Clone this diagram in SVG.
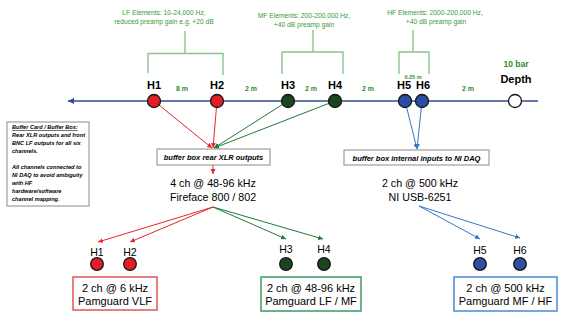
<svg xmlns="http://www.w3.org/2000/svg" width="567" height="321" viewBox="0 0 567 321">
<style>
text{font-family:"Liberation Sans",Arial,sans-serif;fill:#000}
.ann{fill:#3a9a3a;font-size:6.7px;text-anchor:middle}
.dist{fill:#2f8a2f;font-size:7px;font-weight:bold;text-anchor:middle}
.top{font-size:11px;font-weight:bold;text-anchor:middle}
.bot{font-size:10.5px;text-anchor:middle}
.dev{font-size:10.7px;text-anchor:middle}
.pg{font-size:11px;text-anchor:middle}
.buf{font-size:7.5px;font-weight:bold;font-style:italic;text-anchor:middle}
.note{font-size:5.6px;font-weight:bold;font-style:italic}
.brk{fill:none;stroke:#8cc48c;stroke-width:1.4}
.node{stroke:#151515;stroke-width:1.3}
.red{fill:#e31e24}.grn{fill:#1b4421}.blu{fill:#2b4ea3}
.cr{stroke:#e8262b;stroke-width:1;fill:none}
.cg{stroke:#1f7a3a;stroke-width:1;fill:none}
.cb{stroke:#3677c8;stroke-width:1;fill:none}
.box{fill:#fff;stroke:#8a8a8a;stroke-width:1}
</style>
<defs>
<marker id="ar" viewBox="0 0 10 10" refX="10" refY="5" markerWidth="5" markerHeight="5" markerUnits="userSpaceOnUse" orient="auto"><path d="M0,0L10,5L0,10z" fill="#e8262b"/></marker>
<marker id="ag" viewBox="0 0 10 10" refX="10" refY="5" markerWidth="5" markerHeight="5" markerUnits="userSpaceOnUse" orient="auto"><path d="M0,0L10,5L0,10z" fill="#1f7a3a"/></marker>
<marker id="ab" viewBox="0 0 10 10" refX="10" refY="5" markerWidth="5" markerHeight="5" markerUnits="userSpaceOnUse" orient="auto"><path d="M0,0L10,5L0,10z" fill="#3677c8"/></marker>
<marker id="am" viewBox="0 0 10 10" refX="10" refY="5" markerWidth="6" markerHeight="6" markerUnits="userSpaceOnUse" orient="auto"><path d="M0,0L10,5L0,10z" fill="#2f4c8f"/></marker>
</defs>
<rect width="567" height="321" fill="#fff"/>

<g id="annotations">
<text class="ann" x="164" y="15">LF Elements: 10-24,000 Hz,</text>
<text class="ann" x="164" y="23.5">reduced preamp gain e.g. +20 dB</text>
<path class="brk" d="M185,31V53.5M148,73V53.5H223V75"/>
<text class="ann" x="304" y="17.5">MF Elements: 200-200,000 Hz,</text>
<text class="ann" x="304" y="26.5">+40 dB preamp gain</text>
<path class="brk" d="M313,30V52M282,74V52H343V74"/>
<text class="ann" x="435" y="15">HF Elements: 2000-200,000 Hz,</text>
<text class="ann" x="436" y="23.5">+40 dB preamp gain</text>
<path class="brk" d="M413,30V52M399,74V52H429V74"/>
<text class="dist" x="182" y="90.5">8 m</text>
<text class="dist" x="251" y="90.5">2 m</text>
<text class="dist" x="311" y="90.5">2 m</text>
<text class="dist" x="368" y="90.5">2 m</text>
<text class="dist" x="413" y="79" style="font-size:5.5px">0.25 m</text>
<text class="dist" x="468" y="90.5">2 m</text>
<text class="dist" x="516" y="67" style="font-size:8.5px">10 bar</text>
</g>

<g id="connectors">
<line x1="538" y1="101" x2="68" y2="101" stroke="#2f4c8f" stroke-width="1.3" marker-end="url(#am)"/>
<line class="cr" x1="154" y1="101" x2="212" y2="148" marker-end="url(#ar)"/>
<line class="cr" x1="217" y1="101" x2="213" y2="148" marker-end="url(#ar)"/>
<line class="cg" x1="288" y1="101" x2="214" y2="148" marker-end="url(#ag)"/>
<line class="cg" x1="335" y1="101" x2="214" y2="148" marker-end="url(#ag)"/>
<line class="cr" x1="213" y1="165" x2="213" y2="174" marker-end="url(#ar)"/>
<line class="cb" x1="405" y1="101" x2="417" y2="149" marker-end="url(#ab)"/>
<line class="cb" x1="422" y1="101" x2="417" y2="149" marker-end="url(#ab)"/>
<line class="cr" x1="213" y1="207" x2="98" y2="242" marker-end="url(#ar)"/>
<line class="cr" x1="213" y1="207" x2="130" y2="242" marker-end="url(#ar)"/>
<line class="cg" x1="213" y1="207" x2="286" y2="239" marker-end="url(#ag)"/>
<line class="cg" x1="213" y1="207" x2="323" y2="239" marker-end="url(#ag)"/>
<line class="cb" x1="419" y1="206" x2="480" y2="239" marker-end="url(#ab)"/>
<line class="cb" x1="419" y1="206" x2="520" y2="238" marker-end="url(#ab)"/>
</g>

<g id="H1"><text class="top" x="154" y="89">H1</text><circle class="node red" cx="154" cy="101" r="6.5"/></g>
<g id="H2"><text class="top" x="217" y="89">H2</text><circle class="node red" cx="217" cy="101" r="6.5"/></g>
<g id="H3"><text class="top" x="288" y="89">H3</text><circle class="node grn" cx="288" cy="101" r="6.5"/></g>
<g id="H4"><text class="top" x="335" y="89">H4</text><circle class="node grn" cx="335" cy="101" r="6.5"/></g>
<g id="H5"><text class="top" x="404" y="89">H5</text><circle class="node blu" cx="405" cy="101" r="6.5"/></g>
<g id="H6"><text class="top" x="423" y="89">H6</text><circle class="node blu" cx="422" cy="101" r="6.5"/></g>
<g id="Depth"><text class="top" x="516" y="83">Depth</text><circle class="node" cx="515" cy="101" r="6.5" fill="#fff"/></g>

<g id="note">
<rect class="box" x="7" y="122" width="82" height="84" stroke="#999"/>
<text class="note" x="12" y="129" text-decoration="underline">Buffer Card / Buffer Box:</text>
<text class="note" x="12" y="137">Rear XLR outputs and front</text>
<text class="note" x="12" y="145">BNC LF outputs for all six</text>
<text class="note" x="12" y="153">channels.</text>
<text class="note" x="12" y="169">All channels connected to</text>
<text class="note" x="12" y="177">NI DAQ to avoid ambiguity</text>
<text class="note" x="12" y="185">with HF</text>
<text class="note" x="12" y="193">hardware/software</text>
<text class="note" x="12" y="201">channel mapping.</text>
</g>

<g id="bufferRear">
<rect class="box" x="157" y="149" width="113" height="16"/>
<text class="buf" x="213.5" y="160">buffer box rear XLR outputs</text>
</g>
<g id="bufferInternal">
<rect class="box" x="344" y="150" width="145" height="15"/>
<text class="buf" x="416.5" y="160.5">buffer box internal inputs to NI DAQ</text>
</g>

<g id="Fireface">
<text class="dev" x="213" y="187">4 ch @ 48-96 kHz</text>
<text class="dev" x="213" y="201">Fireface 800 / 802</text>
</g>
<g id="NIUSB">
<text class="dev" x="420" y="187">2 ch @ 500 kHz</text>
<text class="dev" x="420" y="201">NI USB-6251</text>
</g>

<g id="VLF">
<text class="bot" x="97" y="256">H1</text><circle class="node red" cx="97" cy="264" r="6.3"/>
<text class="bot" x="130" y="256">H2</text><circle class="node red" cx="130" cy="264" r="6.3"/>
<rect x="73" y="277" width="84" height="33" fill="#fff" stroke="#e0555a" stroke-width="1.5"/>
<text class="pg" x="115" y="291.5">2 ch @ 6 kHz</text>
<text class="pg" x="115" y="305">Pamguard VLF</text>
</g>
<g id="LFMF">
<text class="bot" x="286" y="253">H3</text><circle class="node grn" cx="286" cy="264" r="6.3"/>
<text class="bot" x="324" y="253">H4</text><circle class="node grn" cx="324" cy="264" r="6.3"/>
<rect x="261" y="277" width="100" height="34" fill="#fff" stroke="#3a9a62" stroke-width="1.5"/>
<text class="pg" x="311" y="291.5">2 ch @ 48-96 kHz</text>
<text class="pg" x="311" y="305">Pamguard LF / MF</text>
</g>
<g id="MFHF">
<text class="bot" x="480" y="254">H5</text><circle class="node blu" cx="480" cy="264" r="6.3"/>
<text class="bot" x="520" y="254">H6</text><circle class="node blu" cx="520" cy="264" r="6.3"/>
<rect x="454" y="277" width="103" height="34" fill="#fff" stroke="#4a8ad4" stroke-width="1.5"/>
<text class="pg" x="505.5" y="291.5">2 ch @ 500 kHz</text>
<text class="pg" x="505.5" y="305">Pamguard MF / HF</text>
</g>
</svg>
